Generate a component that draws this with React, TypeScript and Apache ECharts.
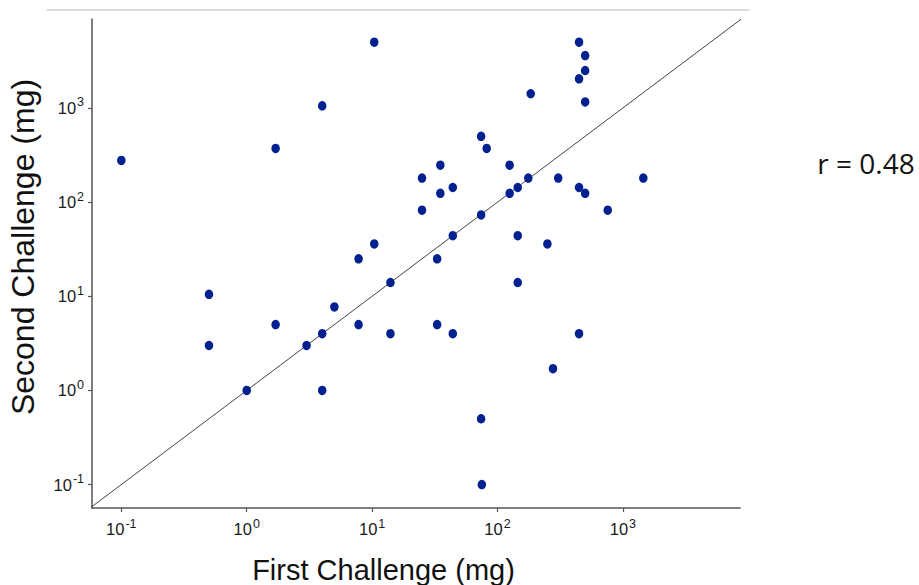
import React, { useEffect, useRef } from 'react';
import * as echarts from 'echarts';

// First and second challenge doses (mg), one entry per subject
const firstChallenge = [
  0.1, 0.5, 0.5, 1, 1.7, 1.7, 3, 4, 4, 4,
  5, 7.8, 7.8, 10.4, 10.4, 14, 14, 25, 25, 33,
  33, 35, 35, 44, 44, 44, 74, 74, 74, 75,
  82, 125, 125, 145, 145, 145, 184, 176, 250, 277,
  305, 447, 447, 500, 500, 500, 447, 500, 447, 757,
  1455,
];
const secondChallenge = [
  277, 3, 10.5, 1, 372, 5, 3, 1055, 4, 1,
  7.7, 25, 5, 5000, 36, 14, 4, 180, 82, 25,
  5, 247, 124, 143, 44, 4, 500, 73, 0.5, 0.1,
  372, 247, 124, 143, 44, 14, 1416, 180, 36, 1.7,
  180, 5000, 2040, 3600, 2500, 1160, 143, 124, 4, 82,
  180,
];
const decadeTicks = [-1, 0, 1, 2, 3];
const xAxisTitle = 'First Challenge (mg)';
const yAxisTitle = 'Second Challenge (mg)';
const correlationLabel = 'r = 0.48';

const X_MIN = -1.234;
const X_MAX = 3.934;
const Y_MIN = -1.249;
const Y_MAX = 3.945;

export default function App() {
  const ref = useRef<HTMLDivElement>(null);

  useEffect(() => {
    if (!ref.current) return;
    const chart = echarts.init(ref.current, undefined, { renderer: 'svg' });

    const points = firstChallenge.map((x, i) => [Math.log10(x), Math.log10(secondChallenge[i])]);

    const labelRich = {
      b: { fontSize: 16.5, fontFamily: 'Liberation Sans', color: '#1a1a1a' },
      s: { fontSize: 12.5, fontFamily: 'Liberation Sans', color: '#1a1a1a', padding: [0, 0, 11, 1] },
    };
    const fmt = (v: number) => `{b|10}{s|${Math.round(v)}}`;

    const axisCommon = {
      type: 'value',
      splitLine: { show: false },
      axisLine: { show: true, onZero: false, lineStyle: { color: '#555', width: 1.5 } },
      axisTick: { show: true, customValues: decadeTicks, length: 4, lineStyle: { color: '#555', width: 1.2 } },
    };

    chart.setOption({
      animation: false,
      backgroundColor: '#ffffff',
      grid: { left: 92, right: 179, top: 19, bottom: 77, containLabel: false },
      xAxis: {
        ...axisCommon,
        min: X_MIN,
        max: X_MAX,
        axisLabel: {
          customValues: decadeTicks,
          formatter: fmt,
          rich: labelRich,
          fontSize: 16.5,
          fontFamily: 'Liberation Sans',
          color: '#1a1a1a',
          margin: 9,
        },
      },
      yAxis: {
        ...axisCommon,
        min: Y_MIN,
        max: Y_MAX,
        axisLabel: {
          customValues: decadeTicks,
          formatter: fmt,
          rich: labelRich,
          fontSize: 16.5,
          fontFamily: 'Liberation Sans',
          color: '#1a1a1a',
          margin: 8,
        },
      },
      series: [
        {
          type: 'line',
          data: [
            [-1.26, -1.26],
            [3.95, 3.95],
          ],
          symbol: 'none',
          lineStyle: { color: '#444', width: 1 },
          silent: true,
          z: 1,
        },
        {
          type: 'scatter',
          data: points,
          symbol: 'circle',
          symbolSize: [8.5, 9.5],
          itemStyle: { color: '#00218f', opacity: 1 },
          z: 3,
        },
      ],
      graphic: [
        {
          type: 'line',
          shape: { x1: 47, y1: 10, x2: 749, y2: 10 },
          style: { stroke: '#cfcfcf', lineWidth: 1.5 },
        },
        {
          type: 'text',
          x: 383.5,
          y: 570,
          style: {
            text: xAxisTitle,
            fontSize: 29,
            fontFamily: 'Liberation Sans',
            fill: '#111',
            textAlign: 'center',
            textVerticalAlign: 'middle',
          },
        },
        {
          type: 'text',
          x: 23,
          y: 247,
          rotation: Math.PI / 2,
          style: {
            text: yAxisTitle,
            fontSize: 32,
            fontFamily: 'Liberation Sans',
            fill: '#111',
            textAlign: 'center',
            textVerticalAlign: 'middle',
          },
        },
        {
          type: 'text',
          x: 866,
          y: 163,
          style: {
            text: correlationLabel,
            fontSize: 28,
            fontFamily: 'Open Sans',
            fill: '#111',
            textAlign: 'center',
            textVerticalAlign: 'middle',
          },
        },
      ],
    });

    return () => chart.dispose();
  }, []);

  return (
    <div
      ref={ref}
      style={{ position: 'absolute', left: 0, top: 0, width: 919, height: 585 }}
    />
  );
}
